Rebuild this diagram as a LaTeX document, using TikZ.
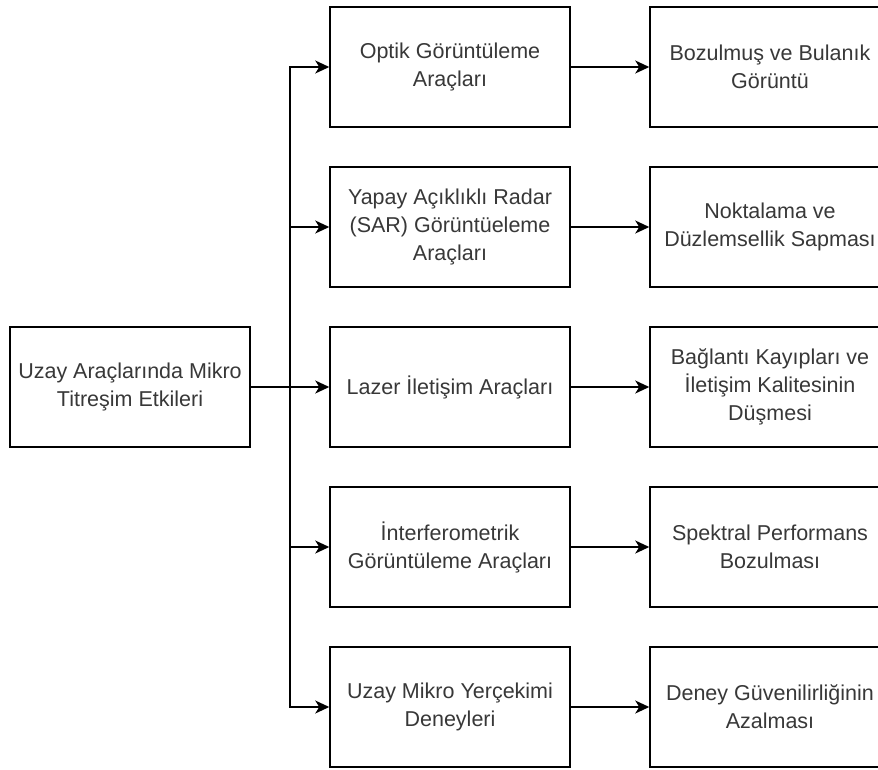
\documentclass[tikz,border=0pt]{standalone}
\usepackage{fontspec}
\setmainfont{Liberation Sans}
\usetikzlibrary{positioning,arrows.meta}

\tikzset{
  blok/.style={draw=black,line width=1.5pt,fill=white,minimum width=240pt,
    minimum height=120pt,inner sep=0pt,align=center,text=black!78,
    font=\fontsize{21.5}{28}\selectfont},
  ok/.style={line width=1.5pt,-{Stealth[length=14pt,width=13pt,inset=4pt]}}
}

\begin{document}
\begin{tikzpicture}[x=1pt,y=-1pt]
  % page frame (right column runs past the edge)
  \useasboundingbox (0,0) rectangle (878,769);
  \clip (0,0) rectangle (878,769);

  % source
  \node[blok] (kaynak) at (130,387) {Uzay Araçlarında Mikro\\Titreşim Etkileri};
  \coordinate (dal) at (290,387);

  % instruments
  \node[blok] (optik)  at (450,67)  {Optik Görüntüleme\\Araçları};
  \node[blok] (sar)    at (450,227) {Yapay Açıklıklı Radar\\(SAR) Görüntüeleme\\Araçları};
  \node[blok] (lazer)  at (450,387) {Lazer İletişim Araçları};
  \node[blok] (interf) at (450,547) {İnterferometrik\\Görüntüleme Araçları};
  \node[blok] (mikro)  at (450,707) {Uzay Mikro Yerçekimi\\Deneyleri};

  % effects
  \node[blok] (bulanik) at (770,67)  {Bozulmuş ve Bulanık\\Görüntü};
  \node[blok] (sapma)   at (770,227) {Noktalama ve\\Düzlemsellik Sapması};
  \node[blok] (kayip)   at (770,387) {Bağlantı Kayıpları ve\\İletişim Kalitesinin\\Düşmesi};
  \node[blok] (spektral) at (770,547) {Spektral Performans\\Bozulması};
  \node[blok] (deney)   at (770,707) {Deney Güvenilirliğinin\\Azalması};

  % fan-out from the source
  \foreach \m in {optik,sar,lazer,interf,mikro}
    \draw[ok] (kaynak.east) -- (dal) |- (\m.west);

  % instrument -> effect
  \draw[ok] (optik) -- (bulanik);
  \draw[ok] (sar) -- (sapma);
  \draw[ok] (lazer) -- (kayip);
  \draw[ok] (interf) -- (spektral);
  \draw[ok] (mikro) -- (deney);
\end{tikzpicture}
\end{document}
